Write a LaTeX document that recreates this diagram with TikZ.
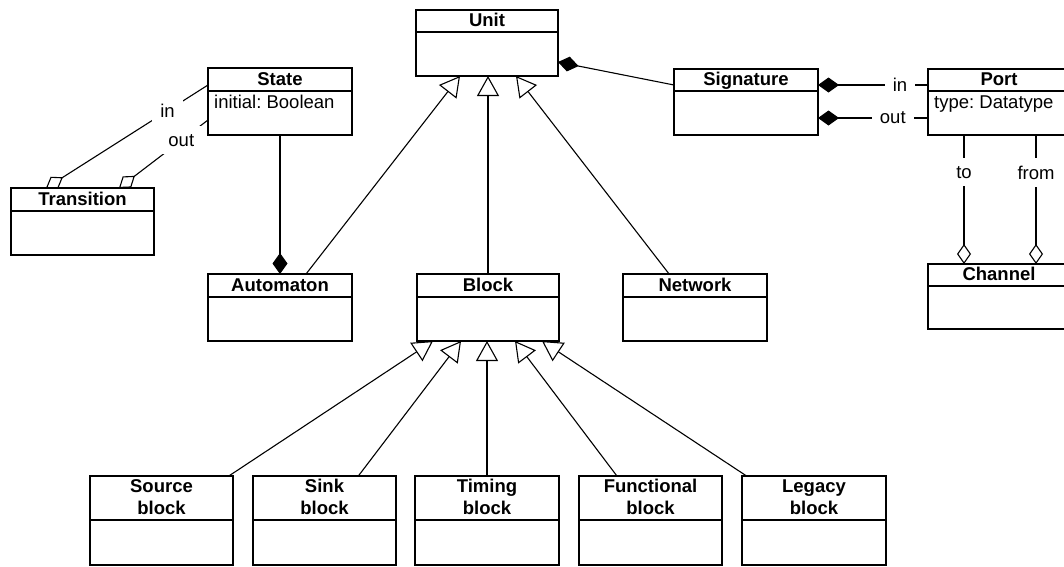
\documentclass[tikz,border=0pt]{standalone}
\usepackage{fontspec}
\setmainfont{Liberation Sans}
\usetikzlibrary{arrows.meta,calc}

\newcommand{\umlsize}{\fontsize{18.5}{21.5}\selectfont\frenchspacing}

\tikzset{
  cls/.style={draw, line width=1.4pt, inner sep=0pt, outer sep=0pt, anchor=north west},
  divider/.style={line width=1.4pt},
  title/.style={font=\umlsize\bfseries, inner sep=0pt, text depth=0pt, anchor=south, align=center},
  attr/.style={font=\umlsize, inner sep=0pt, anchor=base west},
  link/.style={line width=1.1pt},
  gen/.style={link, -{Triangle[open, length=20pt, width=22pt]}},
  comp/.style={link, -{Diamond[length=21pt, width=15pt]}},
  agg/.style={link, -{Diamond[open, length=20pt, width=14pt]}},
  role/.style={font=\umlsize, fill=white, inner sep=8pt},
}

% class box: name, left, top, right, bottom, divider, title
\newcommand{\umlbox}[7]{%
  \node[cls, minimum width={(#4-#2)*1pt}, minimum height={(#5-#3)*1pt}] (#1) at (#2,#3) {};
  \draw[divider] (#2,#6) -- (#4,#6);
  \node[title] (#1-title) at ({(#2+#4)/2},{#6-5.5}) {#7};
}

\begin{document}
\begin{tikzpicture}[x=1pt, y=-1pt, font=\umlsize]
  \useasboundingbox (0,0) rectangle (1064,566);
  \clip (0,0) rectangle (1064,566);

  % classes
  \umlbox{unit}{416}{10}{558}{76}{32}{Unit}
  \umlbox{sig}{674}{69}{818}{135}{91}{Signature}
  \umlbox{port}{928}{69}{1070}{135}{91}{Port}
  \umlbox{state}{208}{68}{352}{135}{91}{State}
  \umlbox{trans}{11}{188}{154}{255}{211}{Transition}
  \umlbox{auto}{208}{274}{352}{341}{297}{Automaton}
  \umlbox{block}{417}{274}{559}{341}{297}{Block}
  \umlbox{net}{623}{274}{767}{341}{297}{Network}
  \umlbox{chan}{928}{264}{1070}{329}{286}{Channel}
  \umlbox{src}{90}{476}{233}{565}{520}{Source\\block}
  \umlbox{sink}{253}{476}{396}{565}{520}{Sink\\block}
  \umlbox{timing}{415}{476}{559}{565}{520}{Timing\\block}
  \umlbox{func}{579}{476}{722}{565}{520}{Functional\\block}
  \umlbox{legacy}{742}{476}{886}{565}{520}{Legacy\\block}

  % attributes
  \node[attr] (state-attr) at (214,108) {initial: Boolean};
  \node[attr] (port-attr) at (934,108) {type: Datatype};

  % generalizations towards Unit
  \coordinate (u1) at ($(unit.south)+(-27,0)$);
  \coordinate (u3) at ($(unit.south)+(29,0)$);
  \draw[gen] (auto) -- (u1);
  \draw[gen] (block.north) -- (block.north |- unit.south);
  \draw[gen] (net) -- (u3);

  % generalizations towards Block
  \coordinate (b1) at ($(block.south)+(-55,0)$);
  \coordinate (b2) at ($(block.south)+(-27,0)$);
  \coordinate (b4) at ($(block.south)+(27,0)$);
  \coordinate (b5) at ($(block.south)+(54,0)$);
  \draw[gen] (src) -- (b1);
  \draw[gen] (sink) -- (b2);
  \draw[gen] (timing.north) -- (timing.north |- block.south);
  \draw[gen] (func) -- (b4);
  \draw[gen] (legacy) -- (b5);

  % compositions
  \draw[comp] (state.south) -- (auto.north);
  \draw[comp] ($(sig.west)+(0,-17)$) -- ($(unit.east)+(0,19)$);
  \draw[comp] ($(port.west)+(0,-17)$) -- node[role, pos=0.255] (lin) {in} ($(sig.east)+(0,-17)$);
  \draw[comp] ($(port.west)+(0,16)$) -- node[role, pos=0.32] (lout) {out} ($(sig.east)+(0,16)$);

  % aggregations
  \draw[agg] ($(state.west)+(0,-16.5)$) -- node[role, pos=0.25] (tin) {in} ($(trans.north)+(-36.5,0)$);
  \draw[agg] ($(state.west)+(0,18.5)$) -- node[role, pos=0.3] (tout) {out} ($(trans.north)+(36.5,0)$);
  \draw[agg] ($(port.south)+(-35,0)$) -- node[role, pos=0.29] (lto) {to} ($(chan.north)+(-35,0)$);
  \draw[agg] ($(port.south)+(37,0)$) -- node[role, pos=0.29] (lfrom) {from} ($(chan.north)+(37,0)$);
\end{tikzpicture}
\end{document}
